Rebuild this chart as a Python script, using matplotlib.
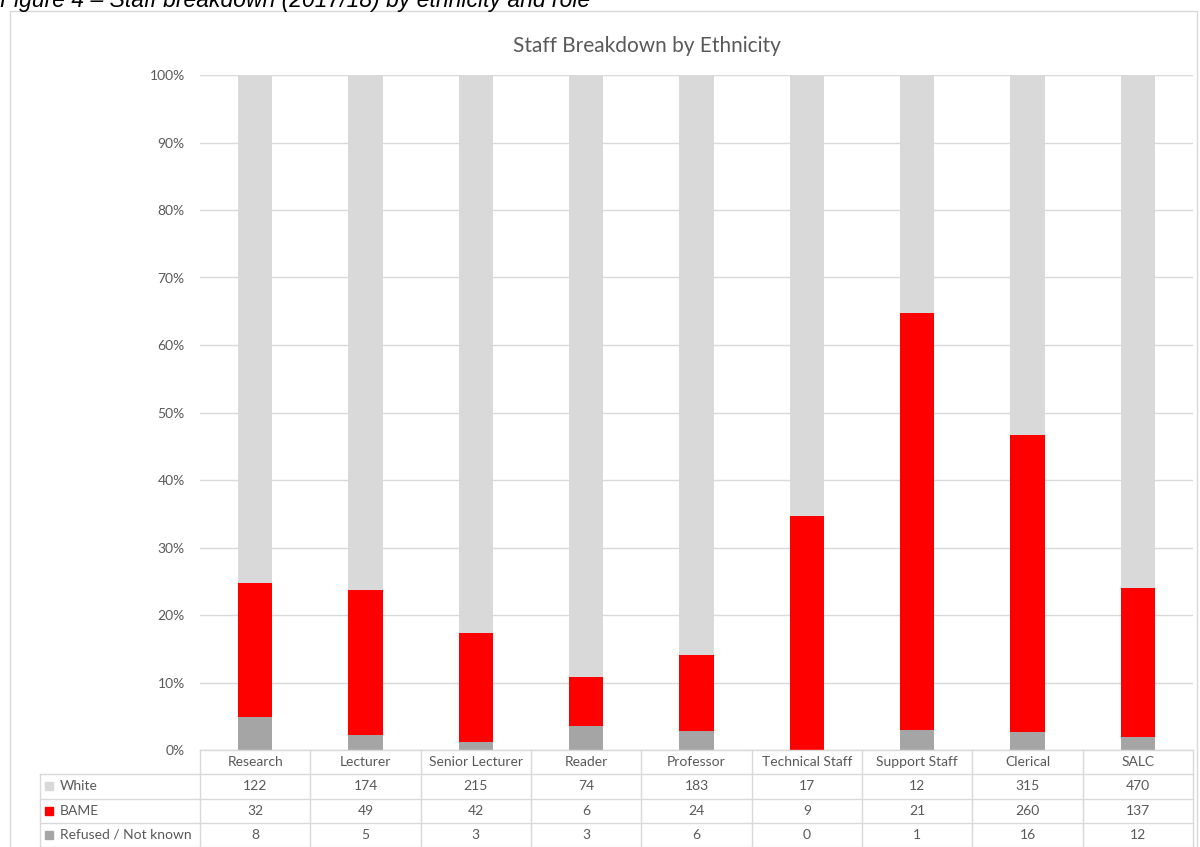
import matplotlib.pyplot as plt
import numpy as np
from matplotlib.patches import Rectangle

roles = ["Research", "Lecturer", "Senior Lecturer", "Reader", "Professor",
         "Technical Staff", "Support Staff", "Clerical", "SALC"]
white = [122, 174, 215, 74, 183, 17, 12, 315, 470]
bame = [32, 49, 42, 6, 24, 9, 21, 260, 137]
refused = [8, 5, 3, 3, 6, 0, 1, 16, 12]

series = [
    ("White", white, "#d9d9d9"),
    ("BAME", bame, "#ff0000"),
    ("Refused / Not known", refused, "#a5a5a5"),
]

TEXT = "#595959"
GRID = "#d9d9d9"
W, H = 1200, 847

plt.rcParams["font.family"] = ["Lato", "DejaVu Sans"]


def fx(px):
    return px / W


def fy(py):
    return 1 - py / H


fig = plt.figure(figsize=(12, 8.47), dpi=100)

# outer chart frame and caption
fig.patches.append(Rectangle((fx(10), -0.02), fx(1187), fy(11) + 0.02,
                             transform=fig.transFigure, fill=False,
                             ec=GRID, lw=1))
fig.text(fx(0), fy(7), "Figure 4 \u2013 Staff breakdown (2017/18) by ethnicity and role",
         family="Liberation Sans", style="italic", fontsize=16.5,
         ha="left", va="baseline", color="black")
fig.text(fx(647), fy(52), "Staff Breakdown by Ethnicity", fontsize=15,
         ha="center", va="baseline", color=TEXT)

# stacked 100% bars
ax = fig.add_axes([fx(200), fy(750), fx(993), 675 / H])
totals = np.array(white) + np.array(bame) + np.array(refused)
x = np.arange(len(roles))
bottom = np.zeros(len(roles))
for name, vals, color in reversed(series):
    share = np.array(vals) / totals
    ax.bar(x, share, width=0.31, bottom=bottom, color=color, zorder=2)
    bottom += share

ax.set_xlim(-0.5, len(roles) - 0.5)
ax.set_ylim(0, 1)
ax.set_yticks(np.arange(0, 1.01, 0.1))
ax.set_yticklabels([f"{int(round(t * 100))}%" for t in np.arange(0, 1.01, 0.1)])
ax.yaxis.grid(True, color=GRID, lw=1, zorder=0)
ax.set_xticks([])
ax.tick_params(axis="y", length=0, pad=11, labelsize=10, labelcolor=TEXT)
for s in ax.spines.values():
    s.set_visible(False)

# data table underneath
tax = fig.add_axes([fx(40), 0, fx(1153), 97 / H])
label_w = 160 / (993 / len(roles))
left = -0.5 - label_w
right = len(roles) - 0.5
tax.set_xlim(left, right)
tax.set_ylim(0, 4)
tax.axis("off")

for yy in (0, 1, 2, 3):
    tax.plot([left, right], [yy, yy], color=GRID, lw=1, clip_on=False)
tax.plot([-0.5, right], [4, 4], color=GRID, lw=1, clip_on=False)
tax.plot([left, left], [0, 3], color=GRID, lw=1, clip_on=False)
for xx in np.arange(-0.5, right + 0.01, 1):
    tax.plot([xx, xx], [0, 4], color=GRID, lw=1, clip_on=False)

for i, role in enumerate(roles):
    tax.text(i, 3.5, role, ha="center", va="center", fontsize=10, color=TEXT)

unit = 993 / len(roles)
for r, (name, vals, color) in enumerate(series):
    yy = 2.5 - r
    tax.plot(left + 9 / unit, yy, marker="s", ms=5.8, color=color, mec=color,
             clip_on=False)
    tax.text(left + 20 / unit, yy, name, ha="left", va="center",
             fontsize=10, color=TEXT)
    for i, v in enumerate(vals):
        tax.text(i, yy, str(v), ha="center", va="center", fontsize=10, color=TEXT)

fig.savefig("out.png", dpi=100)
